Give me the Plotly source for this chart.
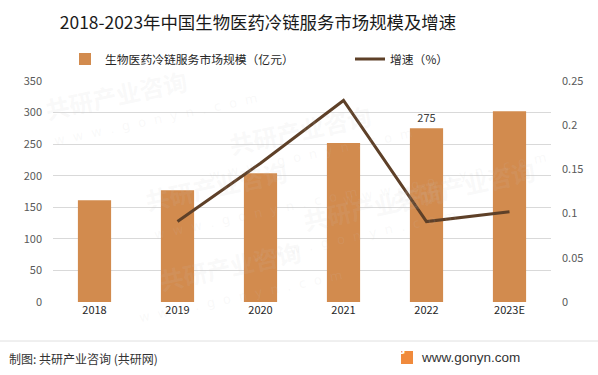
import plotly.graph_objects as go

years = ["2018", "2019", "2020", "2021", "2022", "2023E"]
market_size = [161, 177, 204, 252, 275, 302]
growth_years = ["2019", "2020", "2021", "2022", "2023E"]
growth_rate = [0.091, 0.157, 0.228, 0.091, 0.102]
left_ticks = [0, 50, 100, 150, 200, 250, 300, 350]
right_ticks = [0, 0.05, 0.1, 0.15, 0.2, 0.25]
right_tick_text = ["0", "0.05", "0.1", "0.15", "0.2", "0.25"]

W, H = 598, 375
L, R, T, B = 53, 47, 81, 73
PW = W - L - R
PH = H - T - B

def px_x(x):
    return (x - L) / PW

def px_y(y):
    return (H - B - y) / PH

CJK = "Noto Sans CJK SC"

fig = go.Figure()
fig.add_trace(go.Bar(
    x=years, y=market_size, name="生物医药冷链服务市场规模（亿元）",
    marker=dict(color="#D28B4E", line=dict(width=0)),
    text=["" if y != "2022" else str(v) for y, v in zip(years, market_size)],
    textposition="outside", textfont=dict(size=11, color="#404040", family=CJK),
    cliponaxis=False, legend="legend", hoverinfo="skip",
))
fig.add_trace(go.Scatter(
    x=growth_years, y=growth_rate, name="增速（%）", mode="lines",
    line=dict(color="#5E4028", width=3), yaxis="y2", legend="legend2", hoverinfo="skip",
))

# watermarks
wm = [(300, 95), (140, 185), (540, 150), (450, 240), (230, 300), (40, 60)]
for (wx, wy) in wm:
    fig.add_annotation(xref="paper", yref="paper", x=px_x(wx), y=px_y(wy),
                       text="<b>共研产业咨询</b>", showarrow=False, textangle=-12,
                       font=dict(size=24, color="rgba(200,200,200,0.11)", family=CJK))
    fig.add_annotation(xref="paper", yref="paper", x=px_x(wx + 10), y=px_y(wy + 28),
                       text="w  w  w  .  g  o  n  y  n  .  c  o  m", showarrow=False, textangle=-12,
                       font=dict(size=13, color="rgba(200,200,200,0.11)", family="DejaVu Sans"))

fig.update_layout(
    width=W, height=H,
    margin=dict(l=L, r=R, t=T, b=B, pad=0, autoexpand=False),
    paper_bgcolor="white", plot_bgcolor="white",
    bargap=0.6,
    title=dict(text="2018-2023年中国生物医药冷链服务市场规模及增速",
               x=258 / W, xanchor="center", y=1 - 23 / H, yanchor="middle",
               font=dict(size=17.4, color="#1a1a1a", family=CJK)),
    xaxis=dict(showgrid=False, showline=False, ticks="",
               tickfont=dict(size=11, color="#262626", family=CJK)),
    yaxis=dict(range=[0, 350], tickvals=left_ticks, showgrid=True, gridcolor="#D9D9D9",
               gridwidth=1, zeroline=False, showline=False, ticks="",
               ticklabelstandoff=10,
               tickfont=dict(size=11, color="#595959", family=CJK)),
    yaxis2=dict(range=[0, 0.25], tickvals=right_ticks, ticktext=right_tick_text,
                overlaying="y", side="right", showgrid=False, zeroline=False,
                showline=False, ticks="", ticklabelstandoff=10,
                tickfont=dict(size=11, color="#595959", family=CJK)),
    legend=dict(orientation="h", x=px_x(65), y=px_y(59), xanchor="left", yanchor="middle",
                font=dict(size=11.8, color="#262626", family=CJK), bgcolor="rgba(0,0,0,0)"),
    legend2=dict(orientation="h", x=px_x(350), y=px_y(59), xanchor="left", yanchor="middle",
                 font=dict(size=11.8, color="#262626", family=CJK), bgcolor="rgba(0,0,0,0)"),
    showlegend=True,
)

# footer
fig.add_shape(type="line", xref="paper", yref="paper", x0=px_x(0), x1=px_x(W),
              y0=px_y(341), y1=px_y(341), line=dict(color="#E0E0E0", width=1))
fig.add_annotation(xref="paper", yref="paper", x=px_x(7), y=px_y(358), xanchor="left",
                   yanchor="middle", text="制图: 共研产业咨询 (共研网)", showarrow=False,
                   font=dict(size=12, color="#333333", family=CJK))
fig.add_annotation(xref="paper", yref="paper", x=px_x(419), y=px_y(357), xanchor="left",
                   yanchor="middle", text="www.gonyn.com", showarrow=False,
                   font=dict(size=13.5, color="#333333", family="Liberation Sans"))
fig.add_shape(type="rect", xref="paper", yref="paper", x0=px_x(401), x1=px_x(413),
              y0=px_y(364), y1=px_y(351), fillcolor="#F08A3C", line=dict(width=0))
fig.add_annotation(xref="paper", yref="paper", x=px_x(407), y=px_y(357.5),
                   text="<b>G</b>", showarrow=False,
                   font=dict(size=10, color="white", family="DejaVu Sans"))

fig.write_html("out.html", config={"displayModeBar": False},
               post_script="document.body.style.margin='0px';document.body.style.padding='0px';")
